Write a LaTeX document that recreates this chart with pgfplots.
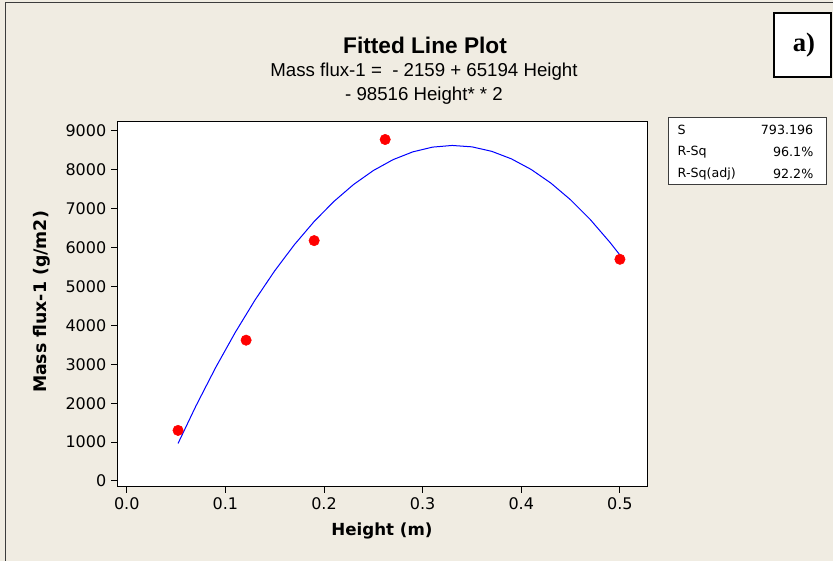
\documentclass[border=0pt]{standalone}
\usepackage{fontspec}
\setmainfont{DejaVu Sans}
\newfontfamily\headfont{Liberation Sans}
\newfontfamily\serifbold{Liberation Serif}
\usepackage{pgfplots}
\pgfplotsset{compat=1.18}
\definecolor{bgbeige}{RGB}{240,236,226}
\definecolor{framegrey}{RGB}{60,60,60}

\begin{document}
\begin{tikzpicture}
% page in pixel units: (0,0) top left, (833,561) bottom right
\begin{scope}[x=0.75pt,y=-0.75pt,shift={(0pt,420.75pt)}]
  \path[use as bounding box] (0,0) rectangle (833,561);
  \fill[bgbeige] (0,0) rectangle (833,561);
  \draw[framegrey,line width=0.75pt] (5,561) -- (5,3) -- (833,3);
\end{scope}

\begin{axis}[
  at={(87.75pt,55.5pt)}, anchor=south west,
  width=397.9pt, height=273.75pt, scale only axis,
  xmin=-0.0099, xmax=0.528, ymin=-155, ymax=9230,
  axis background/.style={fill=white},
  axis line style={black,line width=0.75pt},
  tick style={black,line width=0.75pt},
  tick align=outside, tick pos=left,
  major tick length=4.5pt,
  xtick={0,0.1,0.2,0.3,0.4,0.5},
  ytick={0,1000,2000,3000,4000,5000,6000,7000,8000,9000},
  scaled ticks=false,
  tick label style={font=\fontsize{12}{14}\selectfont},
  x tick label style={/pgf/number format/.cd,fixed,fixed zerofill,precision=1},
  y tick label style={/pgf/number format/.cd,set thousands separator={}},
  /pgf/number format/assume math mode=true,
  clip=false,
]
\addplot[blue,line width=0.75pt] coordinates {
  (0.052,965) (0.07,1922) (0.09,2911) (0.11,3820) (0.13,4651) (0.15,5404)
  (0.17,6077) (0.19,6672) (0.21,7187) (0.23,7624) (0.25,7982) (0.27,8262)
  (0.29,8462) (0.31,8584) (0.33,8627) (0.35,8591) (0.37,8476) (0.39,8282)
  (0.41,8010) (0.43,7659) (0.45,7229) (0.47,6720) (0.49,6132) (0.50,5809)
};
\addplot[only marks,mark=*,mark size=3.9pt,color=red,fill=red] coordinates {
  (0.052,1300) (0.121,3620) (0.190,6180) (0.262,8780) (0.500,5700)
};
\end{axis}

\begin{scope}[x=0.75pt,y=-0.75pt,shift={(0pt,420.75pt)}]
  % titles
  \node at (425,45) {\headfont\bfseries\fontsize{17}{19}\selectfont Fitted Line Plot};
  \node at (424,72) {\headfont\fontsize{14}{16}\selectfont Mass flux-1 =~~- 2159 + 65194 Height};
  \node at (424,96) {\headfont\fontsize{14}{16}\selectfont - 98516 Height* * 2};
  % axis labels
  \node at (382,531) {\bfseries\fontsize{12.5}{14}\selectfont Height (m)};
  \node[rotate=90] at (42,302) {\bfseries\fontsize{13}{15}\selectfont Mass flux-1 (g/m2)};
  % stats box
  \draw[framegrey,fill=white,line width=0.75pt] (668,118) rectangle (826,185);
  \begin{scope}[font=\fontsize{9.5}{11}\selectfont]
    \node[anchor=west] at (673,130) {S};
    \node[anchor=west] at (673,152) {R-Sq};
    \node[anchor=west] at (673,174) {R-Sq(adj)};
    \node[anchor=east] at (818,130) {793.196};
    \node[anchor=east] at (818,152) {96.1\%};
    \node[anchor=east] at (818,174) {92.2\%};
  \end{scope}
  % panel tag
  \draw[black,fill=white,line width=1.5pt] (774,13) rectangle (831,77);
  \node at (804,45) {\serifbold\bfseries\fontsize{20}{22}\selectfont a)};
\end{scope}
\end{tikzpicture}
\end{document}
